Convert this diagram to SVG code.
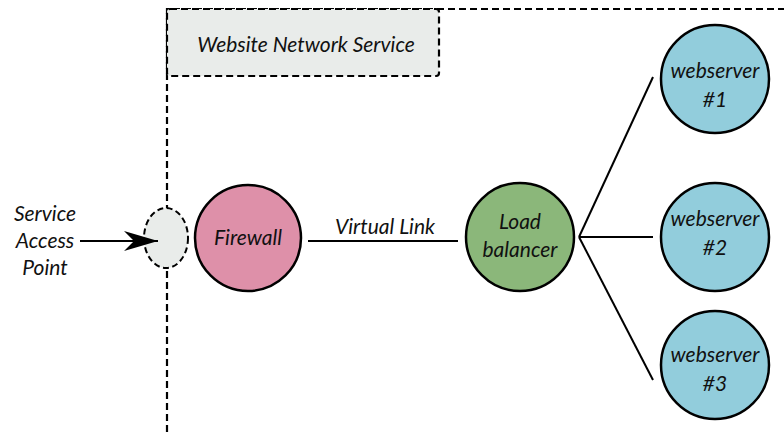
<svg xmlns="http://www.w3.org/2000/svg" width="784" height="432" viewBox="0 0 784 432">
  <style>
    text { font-family: Lato, "Open Sans", sans-serif; font-style: italic; font-size: 21px; fill: #111; text-anchor: middle; }
    .node { stroke: #000; stroke-width: 2.5; }
    .dash { fill: none; stroke: #000; stroke-width: 2.2; stroke-dasharray: 7 4; }
    .link { stroke: #000; stroke-width: 2; fill: none; }
  </style>
  <defs>
    <marker id="arrow" viewBox="0 0 34 20" refX="34" refY="10" markerWidth="34" markerHeight="20" markerUnits="userSpaceOnUse" orient="auto">
      <path d="M0,0 L34,10 L0,20 L10,10 Z" fill="#000"/>
    </marker>
  </defs>

  <!-- service boundary -->
  <g id="service-boundary">
    <path class="dash" d="M167,432 V9 H784"/>
    <rect x="167" y="9" width="272" height="67" rx="3" fill="#e9ecea" stroke="#000" stroke-width="2.2" stroke-dasharray="7 4"/>
    <text x="306" y="52">Website Network Service</text>
  </g>

  <g id="access-point">
    <ellipse cx="166" cy="238" rx="22" ry="30" fill="#e9ecea" stroke="#000" stroke-width="2" stroke-dasharray="6 3.5"/>
    <text x="45" y="221">Service</text>
    <text x="45" y="248">Access</text>
    <text x="45" y="275">Point</text>
  </g>

  <g id="firewall">
    <circle class="node" cx="248" cy="238" r="53" fill="#de90a9"/>
    <text x="248" y="245">Firewall</text>
  </g>

  <g id="load-balancer">
    <circle class="node" cx="520" cy="237" r="54" fill="#8bb77a"/>
    <text x="520" y="229">Load</text>
    <text x="520" y="257">balancer</text>
  </g>

  <g id="webserver-1">
    <circle class="node" cx="715" cy="79" r="54" fill="#92cddc"/>
    <text x="715" y="78">webserver</text>
    <text x="715" y="107">#1</text>
  </g>

  <g id="webserver-2">
    <circle class="node" cx="715" cy="237" r="54" fill="#92cddc"/>
    <text x="715" y="226">webserver</text>
    <text x="715" y="255">#2</text>
  </g>

  <g id="webserver-3">
    <circle class="node" cx="715" cy="365" r="54" fill="#92cddc"/>
    <text x="715" y="362">webserver</text>
    <text x="715" y="391">#3</text>
  </g>

  <!-- connectors -->
  <g id="connectors">
    <line class="link" x1="80" y1="241" x2="158" y2="241" marker-end="url(#arrow)"/>
    <line class="link" x1="308" y1="241" x2="458" y2="241"/>
    <text x="385" y="234">Virtual Link</text>
    <line class="link" x1="579" y1="237" x2="653" y2="77"/>
    <line class="link" x1="579" y1="237" x2="653" y2="237"/>
    <line class="link" x1="579" y1="237" x2="653" y2="380"/>
  </g>
</svg>
